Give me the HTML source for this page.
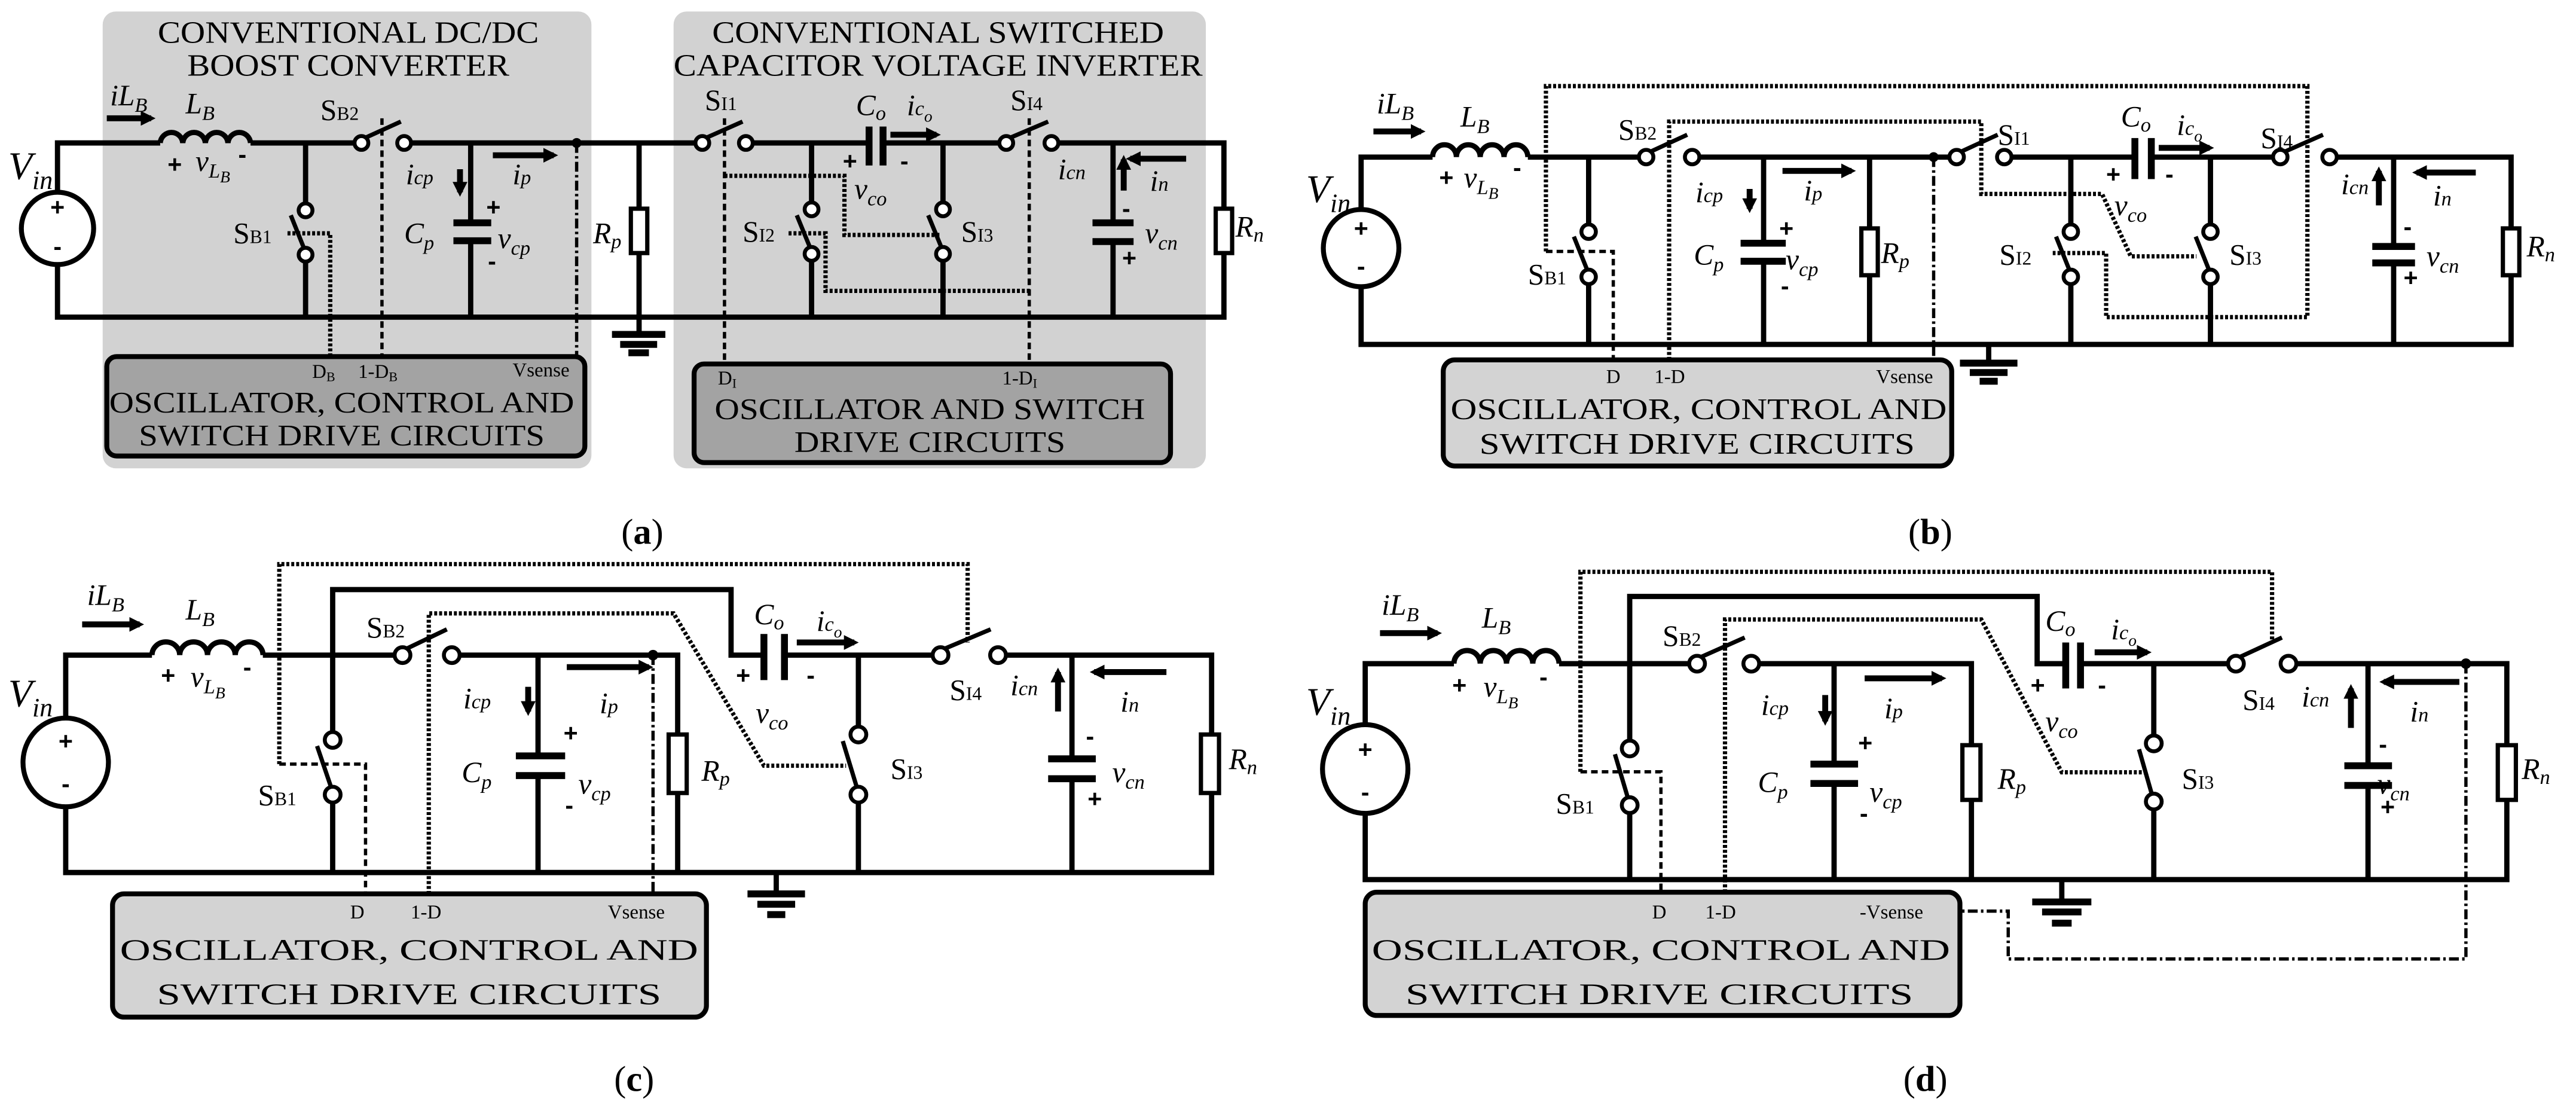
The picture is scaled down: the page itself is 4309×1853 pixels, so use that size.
<!DOCTYPE html>
<html><head><meta charset="utf-8">
<style>
html,body{margin:0;padding:0;background:#fff;}
svg{display:block;}
.w{stroke:#000;stroke-width:3.2;fill:none;stroke-linejoin:miter;}
.c{stroke:#000;stroke-width:2.4;fill:#fff;}
.r{stroke:#000;stroke-width:2.6;fill:#fff;}
.pl{stroke:#000;stroke-width:4.2;}
.bl{stroke:#000;stroke-width:2.6;}
.dt{stroke:#000;stroke-width:2.6;stroke-dasharray:1.8 1.2;fill:none;}
.ds{stroke:#000;stroke-width:2;stroke-dasharray:4 2.5;fill:none;}
.dd{stroke:#000;stroke-width:2;stroke-dasharray:6 2 1.5 2;fill:none;}
.ar{stroke:#000;stroke-width:3.6;}
text{font-family:"Liberation Serif","DejaVu Serif",serif;fill:#000;}
.s{font-size:18px;}
.sb{font-size:11.5px;}
.v{font-size:18px;font-style:italic;}
.sub{font-size:12.5px;}
.pm{font-size:15px;font-weight:bold;font-family:"Liberation Sans",sans-serif;}
.sm{font-size:12px;}
.bx{font-size:18px;}
.cap{font-size:22px;}
.ttl{font-size:19px;}
.vin{font-size:24px;font-style:italic;}
</style></head>
<body>
<svg width="4309" height="1853" viewBox="0 0 1568 674.3" preserveAspectRatio="none" xmlns="http://www.w3.org/2000/svg">
<defs>
<marker id="ah" viewBox="0 0 10 10" refX="7" refY="5" markerWidth="9" markerHeight="9" markerUnits="userSpaceOnUse" orient="auto"><path d="M0,0L10,5L0,10z"/></marker>
</defs>
<rect x="0" y="0" width="1568" height="674.3" fill="#fff"/>

<!-- ================= PANEL A ================= -->
<rect x="62.5" y="7" width="297.5" height="278" rx="8" fill="#d2d2d2"/>
<rect x="410" y="7" width="324" height="278" rx="8" fill="#d2d2d2"/>
<text class="ttl" x="212" y="26" text-anchor="middle" textLength="232" lengthAdjust="spacingAndGlyphs">CONVENTIONAL DC/DC</text>
<text class="ttl" x="212" y="46" text-anchor="middle" textLength="196" lengthAdjust="spacingAndGlyphs">BOOST CONVERTER</text>
<text class="ttl" x="571" y="26" text-anchor="middle" textLength="275" lengthAdjust="spacingAndGlyphs">CONVENTIONAL SWITCHED</text>
<text class="ttl" x="571" y="46" text-anchor="middle" textLength="322" lengthAdjust="spacingAndGlyphs">CAPACITOR VOLTAGE INVERTER</text>

<path class="w" d="M35,117V87H97.5M152.5,87H220M246,87H427.5M454,87H529M537.5,87H612.5M640,87H745V127M745,154V193H35V161"/>
<path class="w" d="M186,87V128M186,155V193M286.5,87V135.6M286.5,146.5V193M389,87V127M389,154V193M494,87V127M494,154.5V193M574,87V127M574,154.5V193M677.5,87V135.6M677.5,147V193M389,193V203.5"/>
<path class="w" d="M97.5,87a6.9,7 0 0 1 13.75,0a6.9,7 0 0 1 13.75,0a6.9,7 0 0 1 13.75,0a6.9,7 0 0 1 13.75,0"/>
<line class="pl" x1="372.5" y1="203.5" x2="405" y2="203.5"/><line class="pl" x1="377.5" y1="209.6" x2="400" y2="209.6"/><line class="pl" x1="382.5" y1="214.7" x2="395" y2="214.7"/>
<line class="pl" x1="276" y1="135.6" x2="299" y2="135.6"/><line class="pl" x1="276" y1="146.5" x2="299" y2="146.5"/>
<line class="pl" x1="665" y1="135.6" x2="690" y2="135.6"/><line class="pl" x1="665" y1="147" x2="690" y2="147"/>
<line class="pl" x1="529" y1="77" x2="529" y2="100.7"/><line class="pl" x1="537.5" y1="77" x2="537.5" y2="100.7"/>
<rect class="r" x="384" y="127" width="10" height="27"/>
<rect class="r" x="740" y="127" width="10" height="27"/>
<ellipse cx="35" cy="139" rx="22" ry="22" fill="#fff" stroke="#000" stroke-width="3"/>
<text class="pm" x="35" y="131" text-anchor="middle">+</text><text class="pm" x="35" y="155" text-anchor="middle">-</text>
<line class="bl" x1="222" y1="84" x2="244" y2="74"/><circle class="c" cx="220" cy="87" r="4.2"/><circle class="c" cx="246" cy="87" r="4.2"/>
<line class="bl" x1="429.5" y1="84" x2="452" y2="74"/><circle class="c" cx="427.5" cy="87" r="4.2"/><circle class="c" cx="454" cy="87" r="4.2"/>
<line class="bl" x1="614.5" y1="84" x2="638" y2="74"/><circle class="c" cx="612.5" cy="87" r="4.2"/><circle class="c" cx="640" cy="87" r="4.2"/>
<line class="bl" x1="185" y1="151" x2="177" y2="131"/><circle class="c" cx="186" cy="128" r="4.2"/><circle class="c" cx="186" cy="155" r="4.2"/>
<line class="bl" x1="493" y1="150.5" x2="485" y2="131"/><circle class="c" cx="494" cy="127.4" r="4.2"/><circle class="c" cx="494" cy="154.5" r="4.2"/>
<line class="bl" x1="573" y1="150.5" x2="565" y2="131"/><circle class="c" cx="574" cy="127.4" r="4.2"/><circle class="c" cx="574" cy="154.5" r="4.2"/>
<polyline class="dt" points="175,142 201,142 201,217"/>
<path class="ds" d="M232.5,72V217M441,72V221.5M626.5,72V221.5"/>
<path class="dd" d="M351,87V217"/>
<circle cx="351" cy="87" r="3" fill="#000"/>
<polyline class="dt" points="441,107 514,107 514,143 572,143"/>
<polyline class="dt" points="480,142 502.5,142 502.5,177 627.5,177"/>
<rect x="65" y="217" width="291" height="60.5" rx="6" fill="#a3a3a3" stroke="#000" stroke-width="3"/>
<rect x="422.5" y="221.5" width="290" height="60" rx="6" fill="#a3a3a3" stroke="#000" stroke-width="3"/>
<text class="sm" x="190" y="230">D<tspan font-size="8" dy="2">B</tspan></text>
<text class="sm" x="218" y="230">1-D<tspan font-size="8" dy="2">B</tspan></text>
<text class="sm" x="312" y="229">Vsense</text>
<text class="bx" x="208" y="251" text-anchor="middle" textLength="283" lengthAdjust="spacingAndGlyphs">OSCILLATOR, CONTROL AND</text>
<text class="bx" x="208" y="271" text-anchor="middle" textLength="247" lengthAdjust="spacingAndGlyphs">SWITCH DRIVE CIRCUITS</text>
<text class="sm" x="437" y="234">D<tspan font-size="8" dy="2">I</tspan></text>
<text class="sm" x="610" y="234">1-D<tspan font-size="8" dy="2">I</tspan></text>
<text class="bx" x="566" y="255" text-anchor="middle" textLength="262" lengthAdjust="spacingAndGlyphs">OSCILLATOR AND SWITCH</text>
<text class="bx" x="566" y="275" text-anchor="middle" textLength="165" lengthAdjust="spacingAndGlyphs">DRIVE CIRCUITS</text>
<text class="vin" x="5" y="109">V<tspan font-size="16" dy="6">in</tspan></text>
<text class="v" x="67" y="64">i<tspan>L</tspan><tspan class="sub" dy="4">B</tspan></text>
<line class="ar" x1="65" y1="72" x2="92" y2="72" marker-end="url(#ah)"/>
<text class="v" x="113" y="69">L<tspan class="sub" dy="4">B</tspan></text>
<text class="pm" x="102" y="105">+</text><text class="v" x="119" y="104">v<tspan class="sub" dy="4">L</tspan><tspan font-size="10" dy="3">B</tspan></text><text class="pm" x="145" y="99">-</text>
<text class="s" x="195" y="73">S<tspan class="sb">B2</tspan></text>
<text class="s" x="142" y="148">S<tspan class="sb">B1</tspan></text>
<text class="v" x="247" y="112">i<tspan class="sub">cp</tspan></text>
<line class="ar" x1="280" y1="103" x2="280" y2="117" marker-end="url(#ah)" stroke-width="2"/>
<text class="v" x="312" y="112">i<tspan class="sub">p</tspan></text>
<line class="ar" x1="300" y1="94.5" x2="337" y2="94.5" marker-end="url(#ah)"/>
<text class="v" x="246" y="148">C<tspan class="sub" dy="4">p</tspan></text>
<text class="pm" x="296" y="131">+</text><text class="v" x="303" y="151">v<tspan class="sub" dy="4">cp</tspan></text><text class="pm" x="297" y="164">-</text>
<text class="v" x="361" y="148">R<tspan class="sub" dy="3">p</tspan></text>
<text class="v" x="752" y="144">R<tspan class="sub" dy="3">n</tspan></text>
<text class="s" x="429" y="67">S<tspan class="sb">I1</tspan></text>
<text class="s" x="615" y="67">S<tspan class="sb">I4</tspan></text>
<text class="s" x="452" y="147">S<tspan class="sb">I2</tspan></text>
<text class="s" x="585" y="147">S<tspan class="sb">I3</tspan></text>
<text class="v" x="521" y="70">C<tspan class="sub" dy="3">o</tspan></text>
<text class="v" x="552" y="70">i<tspan class="sub">c</tspan><tspan font-size="10" dy="4">o</tspan></text>
<line class="ar" x1="542" y1="82" x2="570" y2="82" marker-end="url(#ah)"/>
<text class="pm" x="513" y="103">+</text><text class="pm" x="548" y="103">-</text>
<text class="v" x="520" y="121">v<tspan class="sub" dy="4">co</tspan></text>
<text class="v" x="644" y="109">i<tspan class="sub">cn</tspan></text>
<line class="ar" x1="684" y1="116" x2="684" y2="97" marker-end="url(#ah)" stroke-width="2"/>
<text class="v" x="700" y="116">i<tspan class="sub">n</tspan></text>
<line class="ar" x1="722" y1="96.6" x2="688" y2="96.6" marker-end="url(#ah)"/>
<text class="pm" x="683" y="132">-</text><text class="pm" x="683" y="162">+</text>
<text class="v" x="697" y="148">v<tspan class="sub" dy="4">cn</tspan></text>
<text class="cap" x="391" y="331" text-anchor="middle">(<tspan font-weight="bold">a</tspan>)</text>

<!-- ================= PANEL B ================= -->
<path class="w" d="M828.5,128V95.6H872M930,95.6H1002M1030,95.6H1191M1220,95.6H1299.5M1309.5,95.6H1388M1418,95.6H1528.5V139M1528.5,167.5V209.6H828.5V174"/>
<path class="w" d="M967,95.6V141M967,168.5V209.6M1073.5,95.6V148M1073.5,159V209.6M1138,95.6V139M1138,167.5V209.6M1260.5,95.6V141M1260.5,168.5V209.6M1345.5,95.6V141M1345.5,168.5V209.6M1457,95.6V150M1457,160V209.6M1210.5,209.6V221"/>
<path class="w" d="M872,95.6a7.25,7.5 0 0 1 14.5,0a7.25,7.5 0 0 1 14.5,0a7.25,7.5 0 0 1 14.5,0a7.25,7.5 0 0 1 14.5,0"/>
<line class="pl" x1="1193" y1="221" x2="1228" y2="221"/><line class="pl" x1="1199" y1="226.7" x2="1222" y2="226.7"/><line class="pl" x1="1205" y1="232" x2="1216" y2="232"/>
<line class="pl" x1="1059.5" y1="148" x2="1087" y2="148"/><line class="pl" x1="1059.5" y1="159" x2="1087" y2="159"/>
<line class="pl" x1="1444" y1="150" x2="1470" y2="150"/><line class="pl" x1="1444" y1="160" x2="1470" y2="160"/>
<line class="pl" x1="1299.5" y1="84" x2="1299.5" y2="109"/><line class="pl" x1="1309.5" y1="84" x2="1309.5" y2="109"/>
<rect class="r" x="1133" y="139" width="10" height="28.5"/>
<rect class="r" x="1523.5" y="139" width="10" height="28.5"/>
<ellipse cx="828.5" cy="151" rx="23" ry="23.5" fill="#fff" stroke="#000" stroke-width="3"/>
<text class="pm" x="828.5" y="144" text-anchor="middle">+</text><text class="pm" x="828.5" y="167" text-anchor="middle">-</text>
<line class="bl" x1="1004" y1="92.6" x2="1027" y2="82"/><circle class="c" cx="1002" cy="95.6" r="4.4"/><circle class="c" cx="1030" cy="95.6" r="4.4"/>
<line class="bl" x1="1193" y1="92.6" x2="1216" y2="82"/><circle class="c" cx="1191" cy="95.6" r="4.4"/><circle class="c" cx="1220" cy="95.6" r="4.4"/>
<line class="bl" x1="1390" y1="92.6" x2="1414" y2="82"/><circle class="c" cx="1388" cy="95.6" r="4.4"/><circle class="c" cx="1418" cy="95.6" r="4.4"/>
<line class="bl" x1="966" y1="164" x2="958" y2="144"/><circle class="c" cx="967" cy="141" r="4.4"/><circle class="c" cx="967" cy="168.5" r="4.4"/>
<line class="bl" x1="1259.5" y1="164" x2="1251.5" y2="144"/><circle class="c" cx="1260.5" cy="141" r="4.4"/><circle class="c" cx="1260.5" cy="168.5" r="4.4"/>
<line class="bl" x1="1344.5" y1="164" x2="1336.5" y2="144"/><circle class="c" cx="1345.5" cy="141" r="4.4"/><circle class="c" cx="1345.5" cy="168.5" r="4.4"/>
<polyline class="dt" points="941,153 941,52.4 1404.5,52.4 1404.5,193 1282,193 1282,154 1249.5,154"/>
<polyline class="ds" points="941,153 982,153 982,219"/>
<polyline class="dt" points="1016,219 1016,74 1206,74 1206,118 1279.5,118 1297,156 1337,156"/>
<path class="dd" d="M1177,95.6V219"/>
<circle cx="1177" cy="95.6" r="3" fill="#000"/>
<rect x="878.5" y="219" width="309.5" height="64.6" rx="7" fill="#d3d3d3" stroke="#000" stroke-width="3"/>
<text class="sm" x="982" y="233" text-anchor="middle">D</text>
<text class="sm" x="1007" y="233">1-D</text>
<text class="sm" x="1142" y="233">Vsense</text>
<text class="bx" x="1034" y="255" text-anchor="middle" textLength="302" lengthAdjust="spacingAndGlyphs">OSCILLATOR, CONTROL AND</text>
<text class="bx" x="1033" y="276" text-anchor="middle" textLength="265" lengthAdjust="spacingAndGlyphs">SWITCH DRIVE CIRCUITS</text>
<text class="vin" x="795" y="123">V<tspan font-size="16" dy="6">in</tspan></text>
<text class="v" x="838" y="69">i<tspan>L</tspan><tspan class="sub" dy="4">B</tspan></text>
<line class="ar" x1="836" y1="80" x2="865" y2="80" marker-end="url(#ah)"/>
<text class="v" x="889" y="77">L<tspan class="sub" dy="4">B</tspan></text>
<text class="pm" x="876" y="113">+</text><text class="v" x="891" y="114">v<tspan class="sub" dy="4">L</tspan><tspan font-size="10" dy="3">B</tspan></text><text class="pm" x="921" y="107">-</text>
<text class="s" x="985" y="85">S<tspan class="sb">B2</tspan></text>
<text class="s" x="930" y="173">S<tspan class="sb">B1</tspan></text>
<text class="v" x="1032" y="123">i<tspan class="sub">cp</tspan></text>
<line class="ar" x1="1065" y1="115" x2="1065" y2="127" marker-end="url(#ah)" stroke-width="2"/>
<text class="v" x="1098" y="122">i<tspan class="sub">p</tspan></text>
<line class="ar" x1="1085" y1="104" x2="1127" y2="104" marker-end="url(#ah)"/>
<text class="v" x="1031" y="161">C<tspan class="sub" dy="4">p</tspan></text>
<text class="pm" x="1083" y="144">+</text><text class="v" x="1087" y="164">v<tspan class="sub" dy="4">cp</tspan></text><text class="pm" x="1084" y="179">-</text>
<text class="v" x="1145" y="160">R<tspan class="sub" dy="3">p</tspan></text>
<text class="s" x="1216" y="88">S<tspan class="sb">I1</tspan></text>
<text class="v" x="1291" y="77">C<tspan class="sub" dy="3">o</tspan></text>
<text class="v" x="1325" y="82">i<tspan class="sub">c</tspan><tspan font-size="10" dy="4">o</tspan></text>
<line class="ar" x1="1314" y1="90" x2="1345" y2="90" marker-end="url(#ah)"/>
<text class="pm" x="1282" y="111">+</text><text class="pm" x="1318" y="111">-</text>
<text class="v" x="1287" y="131">v<tspan class="sub" dy="4">co</tspan></text>
<text class="s" x="1376" y="90">S<tspan class="sb">I4</tspan></text>
<text class="s" x="1217" y="161">S<tspan class="sb">I2</tspan></text>
<text class="s" x="1357" y="161">S<tspan class="sb">I3</tspan></text>
<text class="v" x="1425" y="118">i<tspan class="sub">cn</tspan></text>
<line class="ar" x1="1448" y1="125" x2="1448" y2="104" marker-end="url(#ah)" stroke-width="2"/>
<text class="v" x="1481" y="125">i<tspan class="sub">n</tspan></text>
<line class="ar" x1="1507" y1="105" x2="1471" y2="105" marker-end="url(#ah)"/>
<text class="pm" x="1463" y="143">-</text><text class="pm" x="1463" y="174">+</text>
<text class="v" x="1477" y="162">v<tspan class="sub" dy="4">cn</tspan></text>
<text class="v" x="1538" y="156">R<tspan class="sub" dy="3">n</tspan></text>
<text class="cap" x="1175" y="331" text-anchor="middle">(<tspan font-weight="bold">b</tspan>)</text>

<!-- ================= PANEL C ================= -->
<path class="w" d="M40,438V398.7H92.5M160,398.7H245M275,398.7H412.5V447M412.5,482.6V531M202.5,450.3V358.8H445V398.7H465M477.5,398.7H572.5M607.5,398.7H737.5V447M737.5,482.6V531H40V490"/>
<path class="w" d="M202.5,483.6V531M327.5,398.7V460M327.5,472V531M522.5,398.7V447M522.5,483.6V531M652.5,398.7V461.8M652.5,473.9V531M472.5,531V544"/>
<path class="w" d="M92.5,398.7a8.4,8 0 0 1 16.9,0a8.4,8 0 0 1 16.9,0a8.4,8 0 0 1 16.9,0a8.4,8 0 0 1 16.9,0"/>
<line class="pl" x1="455" y1="544" x2="490" y2="544"/><line class="pl" x1="461" y1="550.3" x2="484" y2="550.3"/><line class="pl" x1="467" y1="556.6" x2="478" y2="556.6"/>
<line class="pl" x1="314" y1="460" x2="344" y2="460"/><line class="pl" x1="314" y1="472" x2="344" y2="472"/>
<line class="pl" x1="638" y1="461.8" x2="667" y2="461.8"/><line class="pl" x1="638" y1="473.9" x2="667" y2="473.9"/>
<line class="pl" x1="465" y1="385.8" x2="465" y2="413.9"/><line class="pl" x1="477.5" y1="385.8" x2="477.5" y2="413.9"/>
<rect class="r" x="407" y="447" width="11" height="35.6"/>
<rect class="r" x="731" y="447" width="11" height="35.6"/>
<ellipse cx="40" cy="464" rx="26" ry="27" fill="#fff" stroke="#000" stroke-width="3"/>
<text class="pm" x="40" y="456" text-anchor="middle">+</text><text class="pm" x="40" y="482" text-anchor="middle">-</text>
<line class="bl" x1="247" y1="395" x2="272" y2="383"/><circle class="c" cx="245" cy="398.7" r="4.8"/><circle class="c" cx="275" cy="398.7" r="4.8"/>
<line class="bl" x1="574.5" y1="395" x2="603" y2="383"/><circle class="c" cx="572.5" cy="398.7" r="4.8"/><circle class="c" cx="607.5" cy="398.7" r="4.8"/>
<line class="bl" x1="201.5" y1="479" x2="193" y2="454"/><circle class="c" cx="202.5" cy="450.3" r="4.8"/><circle class="c" cx="202.5" cy="483.6" r="4.8"/>
<line class="bl" x1="521.5" y1="479" x2="513" y2="451"/><circle class="c" cx="522.5" cy="447" r="4.8"/><circle class="c" cx="522.5" cy="483.6" r="4.8"/>
<polyline class="dt" points="170,465 170,343.3 589,343.3 589,391"/>
<polyline class="ds" points="170,465 222.5,465 222.5,544"/>
<polyline class="dt" points="261,544 261,373.3 410,373.3 465,466 515,466"/>
<path class="dd" d="M397.5,398.7V544"/>
<circle cx="397.5" cy="398.7" r="3.2" fill="#000"/>
<rect x="68.5" y="544" width="361.5" height="75" rx="7" fill="#d3d3d3" stroke="#000" stroke-width="3"/>
<text class="sm" x="217.5" y="559" text-anchor="middle">D</text>
<text class="sm" x="250" y="559">1-D</text>
<text class="sm" x="370" y="559">Vsense</text>
<text class="bx" x="249" y="584" text-anchor="middle" font-size="22" textLength="352" lengthAdjust="spacingAndGlyphs">OSCILLATOR, CONTROL AND</text>
<text class="bx" x="249" y="611" text-anchor="middle" font-size="22" textLength="307" lengthAdjust="spacingAndGlyphs">SWITCH DRIVE CIRCUITS</text>
<text class="vin" x="5" y="430">V<tspan font-size="16" dy="6">in</tspan></text>
<text class="v" x="53" y="368">i<tspan>L</tspan><tspan class="sub" dy="4">B</tspan></text>
<line class="ar" x1="50" y1="380" x2="85" y2="380" marker-end="url(#ah)"/>
<text class="v" x="113" y="377">L<tspan class="sub" dy="4">B</tspan></text>
<text class="pm" x="98" y="416">+</text><text class="v" x="116" y="418">v<tspan class="sub" dy="4">L</tspan><tspan font-size="10" dy="3">B</tspan></text><text class="pm" x="148" y="411">-</text>
<text class="s" x="223" y="388">S<tspan class="sb">B2</tspan></text>
<text class="s" x="157" y="490">S<tspan class="sb">B1</tspan></text>
<text class="v" x="282" y="431">i<tspan class="sub">cp</tspan></text>
<line class="ar" x1="321.5" y1="418" x2="321.5" y2="433" marker-end="url(#ah)" stroke-width="2"/>
<text class="v" x="365" y="434">i<tspan class="sub">p</tspan></text>
<line class="ar" x1="345" y1="406" x2="395" y2="406" marker-end="url(#ah)"/>
<text class="v" x="281" y="476">C<tspan class="sub" dy="4">p</tspan></text>
<text class="pm" x="343" y="451">+</text><text class="v" x="352" y="483">v<tspan class="sub" dy="4">cp</tspan></text><text class="pm" x="344" y="495">-</text>
<text class="v" x="427" y="475">R<tspan class="sub" dy="3">p</tspan></text>
<text class="v" x="459" y="380">C<tspan class="sub" dy="3">o</tspan></text>
<text class="v" x="497" y="384">i<tspan class="sub">c</tspan><tspan font-size="10" dy="4">o</tspan></text>
<line class="ar" x1="485" y1="391" x2="520" y2="391" marker-end="url(#ah)"/>
<text class="pm" x="448" y="416">+</text><text class="pm" x="491" y="416">-</text>
<text class="v" x="460" y="440">v<tspan class="sub" dy="4">co</tspan></text>
<text class="s" x="578" y="426">S<tspan class="sb">I4</tspan></text>
<text class="s" x="542" y="474">S<tspan class="sb">I3</tspan></text>
<text class="v" x="615" y="423">i<tspan class="sub">cn</tspan></text>
<line class="ar" x1="644" y1="433" x2="644" y2="409" marker-end="url(#ah)" stroke-width="2"/>
<text class="v" x="682" y="433">i<tspan class="sub">n</tspan></text>
<line class="ar" x1="710" y1="409" x2="666" y2="409" marker-end="url(#ah)"/>
<text class="pm" x="661" y="453">-</text><text class="pm" x="662" y="491">+</text>
<text class="v" x="677" y="476">v<tspan class="sub" dy="4">cn</tspan></text>
<text class="v" x="748" y="468">R<tspan class="sub" dy="3">n</tspan></text>
<text class="cap" x="386" y="664" text-anchor="middle">(<tspan font-weight="bold">c</tspan>)</text>

<!-- ================= PANEL D ================= -->
<path class="w" d="M831,441V403.9H885M949,403.9H1033M1066,403.9H1200V453.5M1200,486.8V535.3M992,455.5V363H1240V403.9H1257.4M1266.4,403.9H1361M1393,403.9H1525.9V453.5M1525.9,486.8V535.3H831V495"/>
<path class="w" d="M992,490V535.3M1116.4,403.9V465M1116.4,476.8V535.3M1311,403.9V452.4M1311,487.8V535.3M1441.4,403.9V466M1441.4,478V535.3M1255,535.3V548.9"/>
<path class="w" d="M885,403.9a8,8 0 0 1 16,0a8,8 0 0 1 16,0a8,8 0 0 1 16,0a8,8 0 0 1 16,0"/>
<line class="pl" x1="1237" y1="548.9" x2="1273" y2="548.9"/><line class="pl" x1="1243" y1="555" x2="1267" y2="555"/><line class="pl" x1="1249" y1="561.8" x2="1261" y2="561.8"/>
<line class="pl" x1="1102" y1="465" x2="1131" y2="465"/><line class="pl" x1="1102" y1="476.8" x2="1131" y2="476.8"/>
<line class="pl" x1="1427" y1="466" x2="1456" y2="466"/><line class="pl" x1="1427" y1="478" x2="1456" y2="478"/>
<line class="pl" x1="1257.4" y1="391" x2="1257.4" y2="419"/><line class="pl" x1="1266.4" y1="391" x2="1266.4" y2="419"/>
<rect class="r" x="1194.5" y="453.5" width="11" height="33.3"/>
<rect class="r" x="1520.4" y="453.5" width="11" height="33.3"/>
<ellipse cx="831" cy="468" rx="26" ry="27" fill="#fff" stroke="#000" stroke-width="3"/>
<text class="pm" x="831" y="461" text-anchor="middle">+</text><text class="pm" x="831" y="487" text-anchor="middle">-</text>
<line class="bl" x1="1035" y1="400" x2="1062" y2="388"/><circle class="c" cx="1033" cy="403.9" r="4.8"/><circle class="c" cx="1066" cy="403.9" r="4.8"/>
<line class="bl" x1="1363" y1="400" x2="1389" y2="388"/><circle class="c" cx="1361" cy="403.9" r="4.8"/><circle class="c" cx="1393" cy="403.9" r="4.8"/>
<line class="bl" x1="991" y1="486" x2="983" y2="459"/><circle class="c" cx="992" cy="455.5" r="4.8"/><circle class="c" cx="992" cy="490" r="4.8"/>
<line class="bl" x1="1310" y1="484" x2="1302" y2="456"/><circle class="c" cx="1311" cy="452.4" r="4.8"/><circle class="c" cx="1311" cy="487.8" r="4.8"/>
<polyline class="dt" points="962,469.7 962,348 1383,348 1383,390"/>
<polyline class="ds" points="962,469.7 1011,469.7 1011,543"/>
<polyline class="dt" points="1050,543 1050,377 1206,377 1255,470 1307,470"/>
<polyline class="dd" points="1501,403.9 1501,583.6 1222.4,583.6 1222.4,554.5 1193,554.5"/>
<circle cx="1501" cy="403.9" r="3.2" fill="#000"/>
<rect x="831" y="543" width="362" height="75" rx="7" fill="#d3d3d3" stroke="#000" stroke-width="3"/>
<text class="sm" x="1010" y="559" text-anchor="middle">D</text>
<text class="sm" x="1038" y="559">1-D</text>
<text class="sm" x="1132" y="559">-Vsense</text>
<text class="bx" x="1011" y="584" text-anchor="middle" font-size="22" textLength="352" lengthAdjust="spacingAndGlyphs">OSCILLATOR, CONTROL AND</text>
<text class="bx" x="1010" y="611" text-anchor="middle" font-size="22" textLength="309" lengthAdjust="spacingAndGlyphs">SWITCH DRIVE CIRCUITS</text>
<text class="vin" x="795" y="435">V<tspan font-size="16" dy="6">in</tspan></text>
<text class="v" x="841" y="374">i<tspan>L</tspan><tspan class="sub" dy="4">B</tspan></text>
<line class="ar" x1="840" y1="385.3" x2="875" y2="385.3" marker-end="url(#ah)"/>
<text class="v" x="902" y="382">L<tspan class="sub" dy="4">B</tspan></text>
<text class="pm" x="884" y="422">+</text><text class="v" x="903" y="424">v<tspan class="sub" dy="4">L</tspan><tspan font-size="10" dy="3">B</tspan></text><text class="pm" x="937" y="417">-</text>
<text class="s" x="1012" y="393">S<tspan class="sb">B2</tspan></text>
<text class="s" x="947" y="495">S<tspan class="sb">B1</tspan></text>
<text class="v" x="1072" y="435">i<tspan class="sub">cp</tspan></text>
<line class="ar" x1="1111" y1="423" x2="1111" y2="439" marker-end="url(#ah)" stroke-width="2"/>
<text class="v" x="1147" y="437">i<tspan class="sub">p</tspan></text>
<line class="ar" x1="1135" y1="412.8" x2="1182" y2="412.8" marker-end="url(#ah)"/>
<text class="v" x="1070" y="482">C<tspan class="sub" dy="4">p</tspan></text>
<text class="pm" x="1131" y="457">+</text><text class="v" x="1138" y="488">v<tspan class="sub" dy="4">cp</tspan></text><text class="pm" x="1132" y="500">-</text>
<text class="v" x="1216" y="480">R<tspan class="sub" dy="3">p</tspan></text>
<text class="v" x="1245" y="384">C<tspan class="sub" dy="3">o</tspan></text>
<text class="v" x="1285" y="389">i<tspan class="sub">c</tspan><tspan font-size="10" dy="4">o</tspan></text>
<line class="ar" x1="1275" y1="397" x2="1307" y2="397" marker-end="url(#ah)"/>
<text class="pm" x="1236" y="422">+</text><text class="pm" x="1277" y="422">-</text>
<text class="v" x="1245" y="445">v<tspan class="sub" dy="4">co</tspan></text>
<text class="s" x="1365" y="432">S<tspan class="sb">I4</tspan></text>
<text class="s" x="1328" y="480">S<tspan class="sb">I3</tspan></text>
<text class="v" x="1401" y="430">i<tspan class="sub">cn</tspan></text>
<line class="ar" x1="1431" y1="443" x2="1431" y2="419" marker-end="url(#ah)" stroke-width="2"/>
<text class="v" x="1467" y="439">i<tspan class="sub">n</tspan></text>
<line class="ar" x1="1497" y1="415" x2="1451" y2="415" marker-end="url(#ah)"/>
<text class="pm" x="1448" y="458">-</text><text class="pm" x="1449" y="496">+</text>
<text class="v" x="1447" y="483">v<tspan class="sub" dy="4">cn</tspan></text>
<text class="v" x="1535" y="474">R<tspan class="sub" dy="3">n</tspan></text>
<text class="cap" x="1172" y="664" text-anchor="middle">(<tspan font-weight="bold">d</tspan>)</text>
</svg>
</body></html>
